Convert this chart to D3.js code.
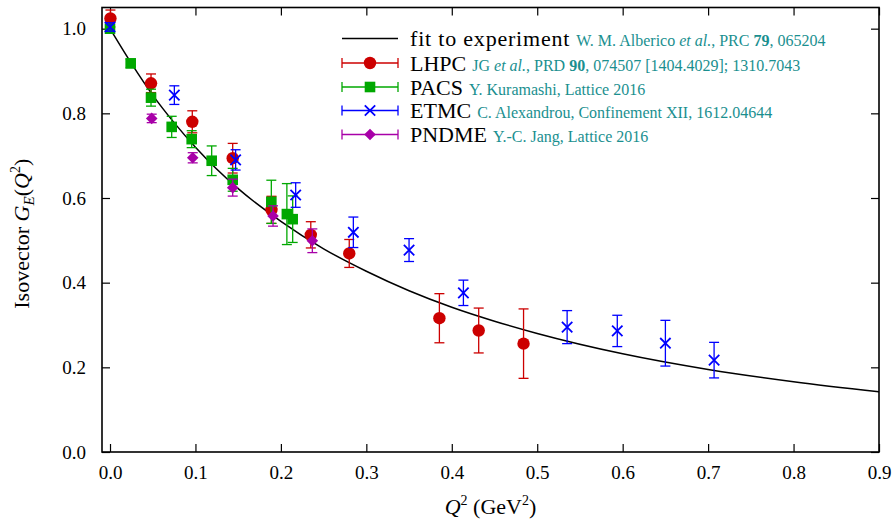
<!DOCTYPE html>
<html>
<head>
<meta charset="utf-8">
<script src="https://cdn.jsdelivr.net/npm/d3@7"></script>
<style>
  html, body { margin: 0; padding: 0; background: #fff; }
  svg { display: block; }
  text { font-family: "Liberation Serif", "DejaVu Serif", serif; }
</style>
</head>
<body>
<svg id="chart" width="894" height="521"></svg>
<script>
// ---------- data ----------
const fitQ2 = [0, 0.025, 0.05, 0.075, 0.1, 0.15, 0.2, 0.25, 0.3, 0.35, 0.4, 0.45, 0.5, 0.6, 0.7, 0.8, 0.9];
const fitGE = [1.0, 0.918, 0.843, 0.778, 0.720, 0.622, 0.545, 0.480, 0.427, 0.381, 0.342, 0.309, 0.280, 0.232, 0.195, 0.166, 0.142];

const lhpcQ2  = [0.0005, 0.048, 0.0963, 0.1436, 0.189, 0.235, 0.280, 0.3855, 0.4315, 0.484];
const lhpcGE  = [1.024, 0.871, 0.780, 0.694, 0.572, 0.513, 0.469, 0.316, 0.287, 0.256];
const lhpcErr = [0.02, 0.022, 0.026, 0.035, 0.032, 0.031, 0.033, 0.058, 0.053, 0.082];

const pacsQ2  = [0.0, 0.0242, 0.048, 0.0722, 0.0956, 0.119, 0.1436, 0.1888, 0.207, 0.2138];
const pacsGE  = [1.0, 0.918, 0.837, 0.768, 0.739, 0.688, 0.643, 0.591, 0.562, 0.550];
const pacsErr = [0.006, 0.01, 0.02, 0.025, 0.02, 0.035, 0.027, 0.051, 0.072, 0.055];

const etmcQ2  = [0.0, 0.0753, 0.147, 0.2173, 0.2848, 0.350, 0.4136, 0.535, 0.5937, 0.650, 0.707];
const etmcGE  = [1.004, 0.843, 0.690, 0.607, 0.519, 0.477, 0.376, 0.295, 0.286, 0.257, 0.217];
const etmcErr = [0.01, 0.022, 0.024, 0.029, 0.036, 0.027, 0.03, 0.039, 0.037, 0.054, 0.042];

const pndmeQ2  = [0.0488, 0.0968, 0.1436, 0.1908, 0.2368];
const pndmeGE  = [0.788, 0.695, 0.6245, 0.5575, 0.499];
const pndmeErr = [0.01, 0.012, 0.02, 0.024, 0.028];

const xTicks = [0.0, 0.1, 0.2, 0.3, 0.4, 0.5, 0.6, 0.7, 0.8, 0.9];
const yTicks = [0.0, 0.2, 0.4, 0.6, 0.8, 1.0];

// ---------- layout ----------
const svg = d3.select("#chart");
const L = 102, R = 879, T = 7.5, B = 452;
const x = d3.scaleLinear().domain([-0.00937, 0.9]).range([L, R]);
const y = d3.scaleLinear().domain([0, 1.05]).range([B, T]);

const cRed = "#cc0000", cGreen = "#00a800", cBlue = "#0000ff", cMag = "#a800a8", cTeal = "#1a8f8f";

// ---------- axes ----------
const fmt = d3.format(".1f");
const tickLen = 8;
const gx = svg.append("g").attr("transform", `translate(0,${B})`)
  .call(d3.axisBottom(x).tickValues(xTicks).tickFormat(fmt).tickSizeInner(-tickLen).tickSizeOuter(0).tickPadding(14));
const gxt = svg.append("g").attr("transform", `translate(0,${T})`)
  .call(d3.axisTop(x).tickValues(xTicks).tickFormat("").tickSizeInner(-tickLen).tickSizeOuter(0));
const gy = svg.append("g").attr("transform", `translate(${L},0)`)
  .call(d3.axisLeft(y).tickValues(yTicks).tickFormat(fmt).tickSizeInner(-tickLen).tickSizeOuter(0).tickPadding(16));
const gyr = svg.append("g").attr("transform", `translate(${R},0)`)
  .call(d3.axisRight(y).tickValues(yTicks).tickFormat("").tickSizeInner(-tickLen).tickSizeOuter(0));
[gx, gxt, gy, gyr].forEach(g => {
  g.select(".domain").remove();
  g.selectAll("line").attr("stroke", "#000").attr("stroke-width", 1.2);
  g.selectAll("text").attr("font-family", "Liberation Serif").attr("font-size", 19).attr("fill", "#000");
});

// frame
svg.append("rect").attr("x", L).attr("y", T).attr("width", R - L).attr("height", B - T)
  .attr("fill", "none").attr("stroke", "#000").attr("stroke-width", 1.6);

// ---------- fit curve ----------
const fitData = fitQ2.map((q, i) => [q, fitGE[i]]);
svg.append("path").datum(fitData)
  .attr("d", d3.line().x(d => x(d[0])).y(d => y(d[1])).curve(d3.curveMonotoneX))
  .attr("fill", "none").attr("stroke", "#000").attr("stroke-width", 1.5);

// ---------- series ----------
const capW = 5;
function drawErr(g, px, py, err, color) {
  const y1 = y(py + err), y2 = y(py - err), cx = x(px);
  g.append("line").attr("x1", cx).attr("x2", cx).attr("y1", y1).attr("y2", y2).attr("stroke", color).attr("stroke-width", 1.3);
  g.append("line").attr("x1", cx - capW).attr("x2", cx + capW).attr("y1", y1).attr("y2", y1).attr("stroke", color).attr("stroke-width", 1.3);
  g.append("line").attr("x1", cx - capW).attr("x2", cx + capW).attr("y1", y2).attr("y2", y2).attr("stroke", color).attr("stroke-width", 1.3);
}
function marker(g, type, cx, cy, color) {
  if (type === "circle") {
    g.append("circle").attr("cx", cx).attr("cy", cy).attr("r", 6.2).attr("fill", color);
  } else if (type === "square") {
    g.append("rect").attr("x", cx - 5.3).attr("y", cy - 5.3).attr("width", 10.6).attr("height", 10.6).attr("fill", color);
  } else if (type === "cross") {
    const s = 5.2;
    g.append("path").attr("d", `M${cx - s},${cy - s}L${cx + s},${cy + s}M${cx - s},${cy + s}L${cx + s},${cy - s}`)
      .attr("stroke", color).attr("stroke-width", 1.8).attr("fill", "none");
  } else if (type === "diamond") {
    const s = 5.8;
    g.append("path").attr("d", `M${cx},${cy - s}L${cx + s},${cy}L${cx},${cy + s}L${cx - s},${cy}Z`).attr("fill", color);
  }
}
const series = [
  { q: lhpcQ2, v: lhpcGE, e: lhpcErr, color: cRed, type: "circle" },
  { q: pacsQ2, v: pacsGE, e: pacsErr, color: cGreen, type: "square" },
  { q: etmcQ2, v: etmcGE, e: etmcErr, color: cBlue, type: "cross" },
  { q: pndmeQ2, v: pndmeGE, e: pndmeErr, color: cMag, type: "diamond" }
];
series.forEach(s => {
  const g = svg.append("g");
  s.q.forEach((q, i) => {
    drawErr(g, q, s.v[i], s.e[i], s.color);
    marker(g, s.type, x(q), y(s.v[i]), s.color);
  });
});

// ---------- legend ----------
const legRows = [
  { name: "fit to experiment", type: "line", ls: 0.8, parts: [["W. M. Alberico ", ""], ["et al.", "i"], [", PRC ", ""], ["79", "b"], [", 065204", ""]] },
  { name: "LHPC", type: "circle", color: cRed, ls: 0, parts: [["JG ", ""], ["et al.", "i"], [", PRD ", ""], ["90", "b"], [", 074507 [1404.4029]; 1310.7043", ""]] },
  { name: "PACS", type: "square", color: cGreen, ls: 0, parts: [["Y. Kuramashi, Lattice 2016", ""]] },
  { name: "ETMC", type: "cross", color: cBlue, ls: 0, parts: [["C. Alexandrou, Confinement XII, 1612.04644", ""]] },
  { name: "PNDME", type: "diamond", color: cMag, ls: 0, parts: [["Y.-C. Jang, Lattice 2016", ""]] }
];
const legY = [38.5, 63, 87, 110.5, 134.5];
const lx1 = 342, lx2 = 398, lmx = 370, ltx = 410;
legRows.forEach((r, i) => {
  const cy = legY[i];
  const g = svg.append("g");
  if (r.type === "line") {
    g.append("line").attr("x1", lx1).attr("x2", lx2).attr("y1", cy).attr("y2", cy).attr("stroke", "#000").attr("stroke-width", 1.5);
  } else {
    g.append("line").attr("x1", lx1).attr("x2", lx2).attr("y1", cy).attr("y2", cy).attr("stroke", r.color).attr("stroke-width", 1.3);
    [lx1, lx2].forEach(xx => g.append("line").attr("x1", xx).attr("x2", xx).attr("y1", cy - 5).attr("y2", cy + 5).attr("stroke", r.color).attr("stroke-width", 1.3));
    marker(g, r.type, lmx, cy, r.color);
  }
  const t = g.append("text").attr("x", ltx).attr("y", cy + 7.5).attr("font-size", 22).attr("fill", "#000");
  t.append("tspan").attr("letter-spacing", r.ls).text(r.name);
  const t2 = t.append("tspan").attr("font-size", 16).attr("fill", cTeal).attr("dx", 6).attr("letter-spacing", 0);
  r.parts.forEach((p, k) => {
    const sp = (k === 0 ? t2 : t.append("tspan").attr("font-size", 16).attr("fill", cTeal).attr("letter-spacing", 0));
    sp.text(p[0]);
    if (p[1] === "i") sp.attr("font-style", "italic");
    if (p[1] === "b") sp.attr("font-weight", "bold");
  });
});

// ---------- axis titles ----------
const xt = svg.append("text").attr("x", (L + R) / 2).attr("y", 514).attr("text-anchor", "middle").attr("font-size", 22);
xt.append("tspan").attr("font-style", "italic").text("Q");
xt.append("tspan").attr("font-size", 14).attr("dy", -9).text("2");
xt.append("tspan").attr("dy", 9).text(" (GeV");
xt.append("tspan").attr("font-size", 14).attr("dy", -9).text("2");
xt.append("tspan").attr("dy", 9).text(")");

const yt = svg.append("text").attr("transform", `translate(29,${(T + B) / 2 + 4}) rotate(-90)`).attr("text-anchor", "middle").attr("font-size", 22);
yt.append("tspan").text("Isovector ");
yt.append("tspan").attr("font-style", "italic").text("G");
yt.append("tspan").attr("font-style", "italic").attr("font-size", 15).attr("dy", 5).text("E");
yt.append("tspan").attr("dy", -5).text("(");
yt.append("tspan").attr("font-style", "italic").text("Q");
yt.append("tspan").attr("font-size", 14).attr("dy", -9).text("2");
yt.append("tspan").attr("dy", 9).text(")");
</script>
</body>
</html>
